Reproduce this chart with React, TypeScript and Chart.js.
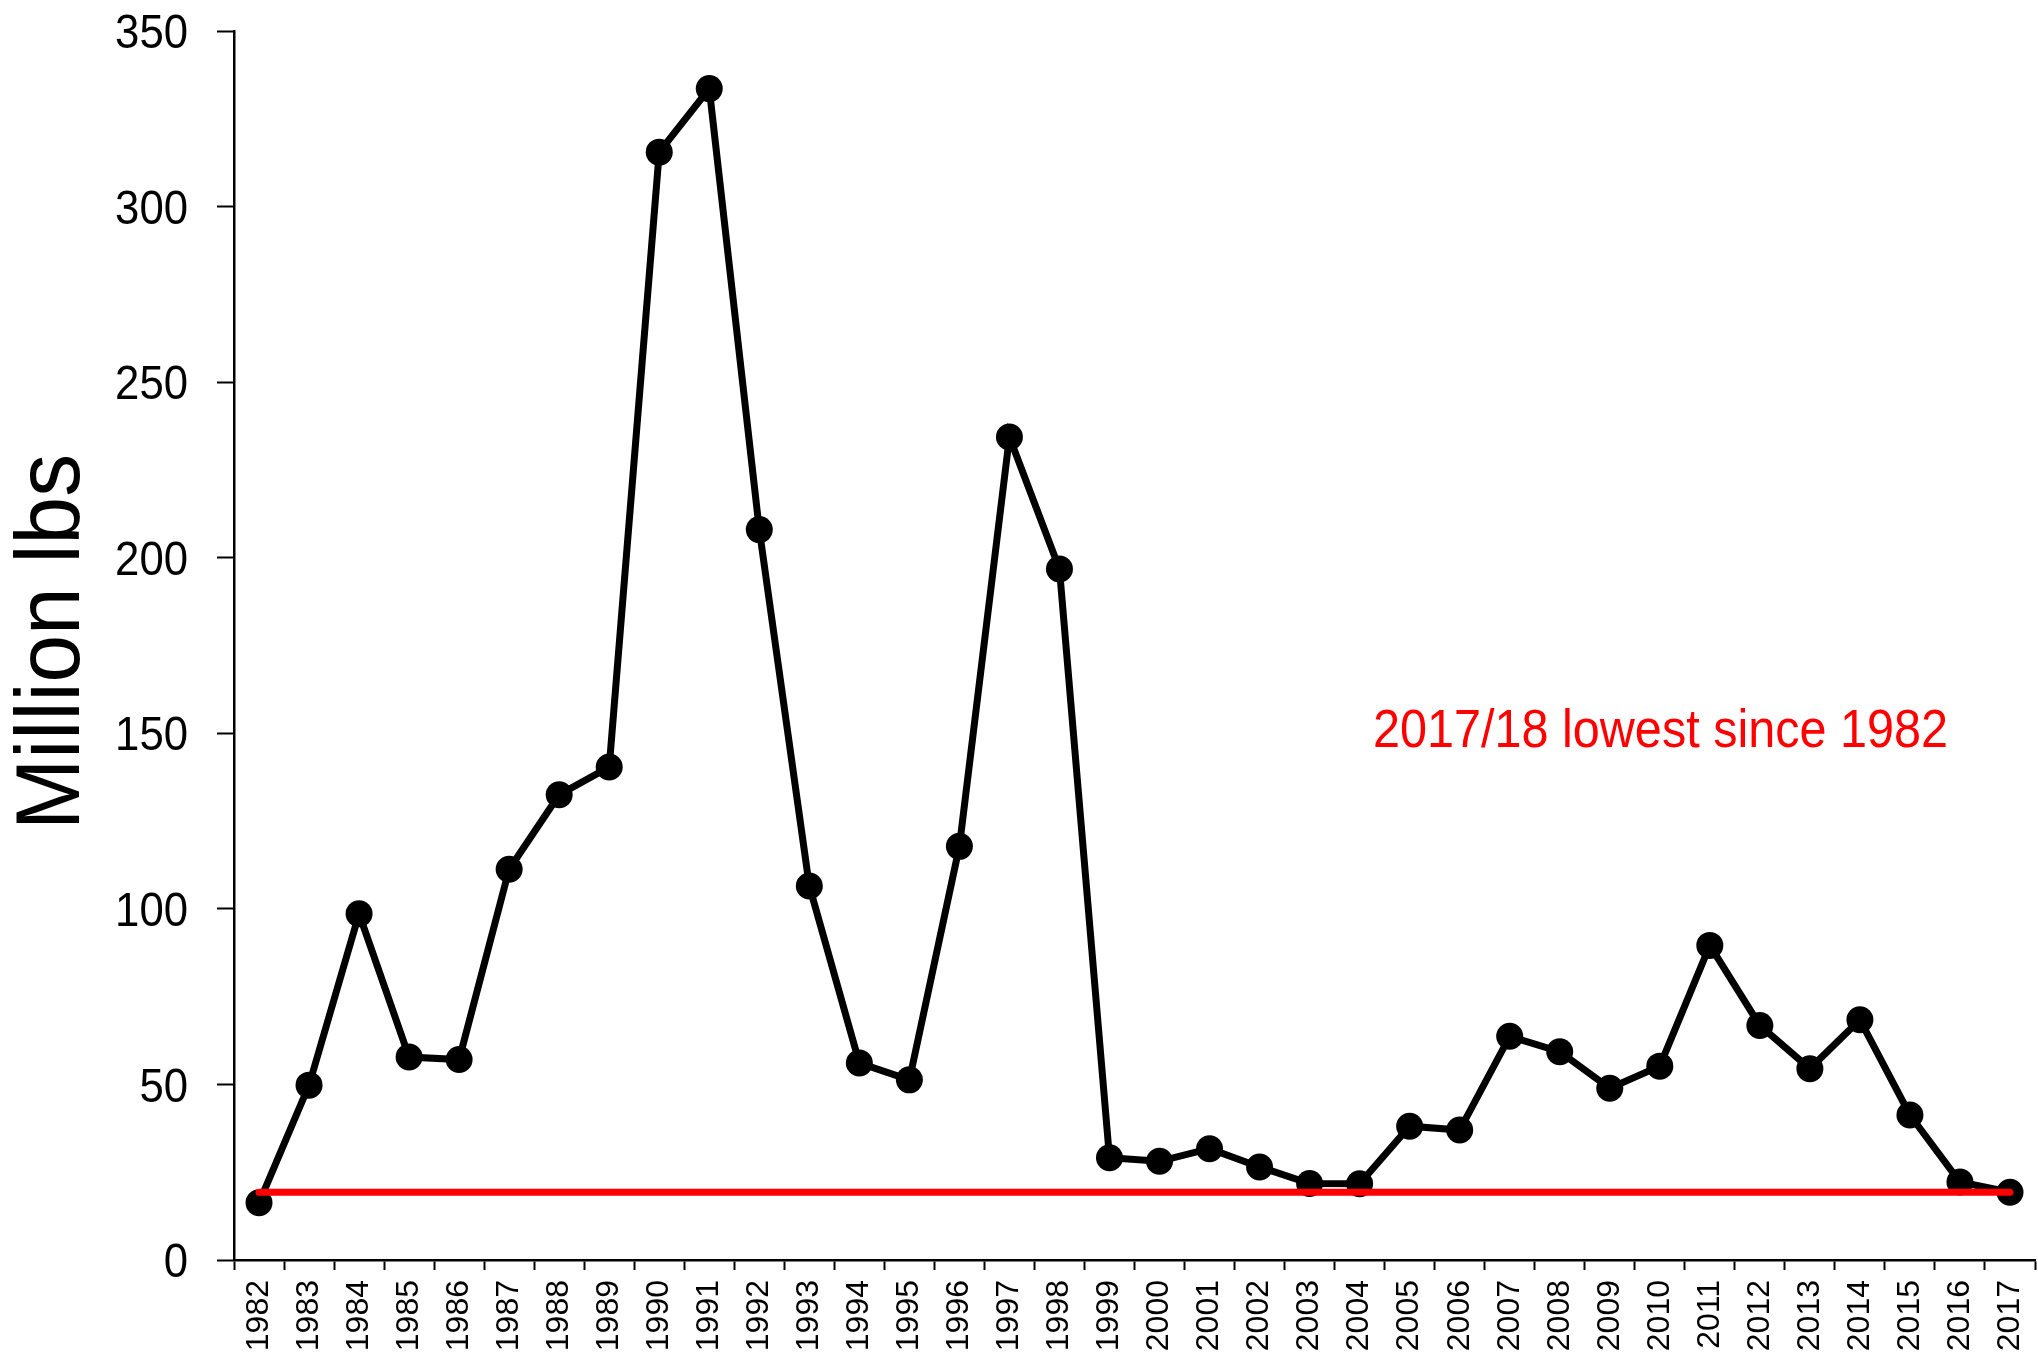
import React, { useEffect, useRef } from 'react';
import { Chart, registerables } from 'chart.js';

Chart.register(...registerables);

// ---- data ----
const years: string[] = [
  '1982', '1983', '1984', '1985', '1986', '1987', '1988', '1989', '1990', '1991',
  '1992', '1993', '1994', '1995', '1996', '1997', '1998', '1999', '2000', '2001',
  '2002', '2003', '2004', '2005', '2006', '2007', '2008', '2009', '2010', '2011',
  '2012', '2013', '2014', '2015', '2016', '2017',
];

const catchMillionLbs: number[] = [
  16.3, 49.8, 98.6, 57.8, 57.1, 111.3, 132.5, 140.4, 315.5, 333.6,
  208.0, 106.5, 56.1, 51.3, 117.8, 234.4, 196.8, 29.1, 28.1, 31.7,
  26.5, 21.8, 21.7, 38.1, 37.0, 63.7, 59.3, 48.9, 55.2, 89.6,
  66.8, 54.5, 68.4, 41.3, 22.2, 19.3,
];

const lowestLevel = 19.3;
const lowestFrom = '1982';
const lowestTo = '2017';

const yMin = 0;
const yMax = 350;
const yStep = 50;

const yAxisTitle = 'Million lbs';
const annotationText = '2017/18 lowest since 1982';

const W = 2038;
const H = 1363;
const SANS = '"Liberation Sans", Arial, sans-serif';

// draws condensed text (real canvas text) scaled horizontally to a target width
function condensedText(
  ctx: CanvasRenderingContext2D,
  text: string,
  x: number,
  y: number,
  size: number,
  targetWidth: number,
  align: 'left' | 'right' | 'center',
) {
  ctx.save();
  ctx.font = `${size}px ${SANS}`;
  ctx.textBaseline = 'alphabetic';
  ctx.textAlign = align;
  const w = ctx.measureText(text).width;
  const k = targetWidth / w;
  ctx.translate(x, y);
  ctx.scale(k, 1);
  ctx.fillText(text, 0, 0);
  ctx.restore();
}

const textPlugin = {
  id: 'textPlugin',
  afterDraw(chart: any) {
    const { ctx, chartArea } = chart;
    const yScale = chart.scales.y;

    // y tick labels (condensed)
    ctx.save();
    ctx.fillStyle = '#000000';
    const tickSize = 48;
    for (const t of yScale.ticks) {
      const label = String(t.label ?? t.value);
      const py = yScale.getPixelForValue(t.value);
      const digitW = 24.3;
      condensedText(ctx, label, 188, py + 0.358 * tickSize, tickSize, digitW * label.length, 'right');
    }
    ctx.restore();

    // y axis title (rotated, condensed)
    ctx.save();
    ctx.fillStyle = '#000000';
    const titleSize = 90;
    const cy = (chartArea.top + chartArea.bottom) / 2 - 3.5;
    ctx.font = `${titleSize}px ${SANS}`;
    ctx.translate(46, cy);
    ctx.rotate(-Math.PI / 2);
    const tw = ctx.measureText(yAxisTitle).width;
    ctx.scale(376 / tw, 1);
    ctx.textAlign = 'center';
    ctx.textBaseline = 'alphabetic';
    ctx.fillText(yAxisTitle, 0, 0.3645 * titleSize);
    ctx.restore();

    // red annotation
    ctx.save();
    ctx.fillStyle = '#ff0000';
    condensedText(ctx, annotationText, 1373, 747, 54, 575, 'left');
    ctx.restore();
  },
};

export default function App() {
  const ref = useRef<HTMLCanvasElement | null>(null);

  useEffect(() => {
    if (!ref.current) return;
    const chart = new Chart(ref.current, {
      type: 'line',
      data: {
        labels: years,
        datasets: [
          {
            label: 'Lowest',
            data: [
              { x: lowestFrom, y: lowestLevel },
              { x: lowestTo, y: lowestLevel },
            ] as any,
            borderColor: '#ff0000',
            borderWidth: 7,
            borderCapStyle: 'round',
            pointRadius: 0,
            pointHoverRadius: 0,
            fill: false,
            tension: 0,
            order: 0,
            clip: false,
          },
          {
            label: 'Catch',
            data: catchMillionLbs,
            borderColor: '#000000',
            backgroundColor: '#000000',
            borderWidth: 7,
            pointRadius: 13.5,
            pointHoverRadius: 13.5,
            pointBackgroundColor: '#000000',
            pointBorderWidth: 0,
            fill: false,
            tension: 0,
            order: 1,
            clip: false,
          },
        ],
      },
      options: {
        responsive: false,
        animation: false,
        events: [],
        layout: { autoPadding: false, padding: { left: 0, top: 31, right: 3, bottom: 0 } },
        plugins: {
          legend: { display: false },
          tooltip: { enabled: false },
          title: { display: false },
        },
        scales: {
          x: {
            type: 'category',
            offset: true,
            grid: {
              offset: true,
              drawOnChartArea: false,
              drawTicks: true,
              tickLength: 10,
              tickWidth: 2,
              tickColor: '#000000',
            },
            border: { display: true, color: '#000000', width: 2.5 },
            ticks: {
              autoSkip: false,
              minRotation: 90,
              maxRotation: 90,
              padding: 10,
              color: '#000000',
              font: { family: SANS, size: 32, lineHeight: 1 },
            },
            afterFit(scale: any) {
              scale.height = H - 1260;
              scale.paddingLeft = 0;
              scale.paddingRight = 0;
            },
          },
          y: {
            type: 'linear',
            min: yMin,
            max: yMax,
            grid: {
              drawOnChartArea: false,
              drawTicks: true,
              tickLength: 17,
              tickWidth: 2,
              tickColor: '#000000',
            },
            border: { display: true, color: '#000000', width: 2.5 },
            ticks: {
              stepSize: yStep,
              display: false,
            },
            title: { display: false },
            afterFit(scale: any) {
              scale.width = 234;
              scale.paddingTop = 0;
              scale.paddingBottom = 0;
            },
          },
        },
      },
      plugins: [textPlugin],
    });
    return () => chart.destroy();
  }, []);

  return (
    <div style={{ position: 'absolute', left: 0, top: 0, width: W, height: H, background: '#ffffff' }}>
      <canvas ref={ref} width={W} height={H} style={{ display: 'block', width: W, height: H }} />
    </div>
  );
}
